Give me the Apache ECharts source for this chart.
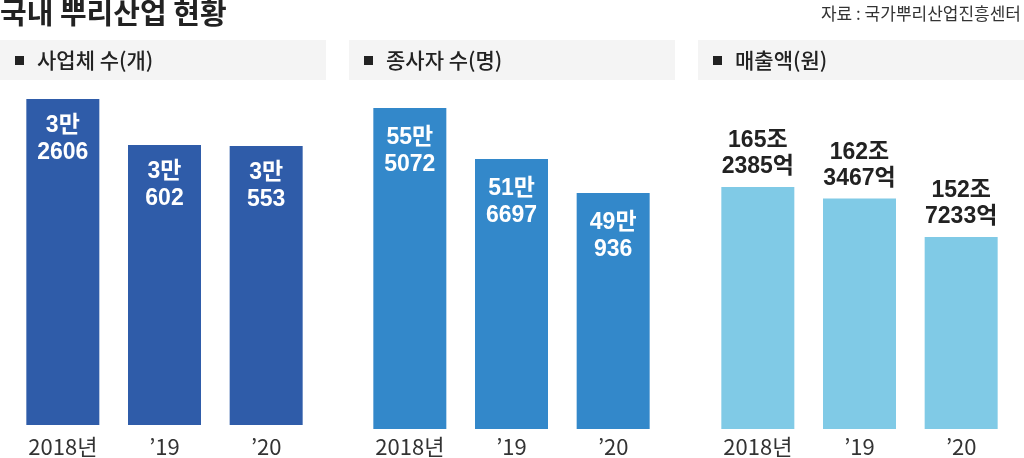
<!DOCTYPE html>
<html>
<head>
<meta charset="utf-8">
<script src="https://cdn.jsdelivr.net/npm/echarts@6/dist/echarts.min.js"></script>
<style>
  html, body { margin: 0; padding: 0; background: #fff; }
  #main { width: 1024px; height: 458px; }
</style>
</head>
<body>
<div id="main"></div>
<script>
// 데이터
var years = ['2018년', '\u201919', '\u201920'];
var firms = [32606, 30602, 30553];          // 사업체 수(개)
var workers = [555072, 516697, 490936];     // 종사자 수(명)
var sales = [1652385, 1623467, 1527233];    // 매출액(억원)
var panelNames = ['사업체 수(개)', '종사자 수(명)', '매출액(원)'];

var numFont = '"Liberation Sans", "Noto Sans CJK KR", sans-serif';
var krFont = '"Noto Sans CJK KR", sans-serif';

var chart = echarts.init(document.getElementById('main'));

function manLabel(p) {
    var v = p.value;
    return Math.floor(v / 10000) + '만\n' + (v % 10000);
}
function joLabel(p) {
    var v = p.value;
    return Math.floor(v / 10000) + '조\n' + (v % 10000) + '억';
}

var grids = [
    { left: 12, width: 305, top: 99, bottom: 458 - 425 },
    { left: 359, width: 305, top: 108, bottom: 458 - 429 },
    { left: 707, width: 305, top: 187, bottom: 458 - 429 }
];
var mins = [18400, 313000, 1047000];
var colors = ['#2f5ca9', '#3388ca', '#80cae6'];
var margins = [11, 7, 7];

var xAxes = [], yAxes = [], series = [];
[firms, workers, sales].forEach(function (data, i) {
    xAxes.push({
        type: 'category', gridIndex: i, data: years,
        axisLine: { show: false }, axisTick: { show: false },
        axisLabel: {
            color: '#333', fontSize: 22, margin: margins[i],
            fontFamily: '"Liberation Sans Narrow", "Noto Sans CJK KR", sans-serif'
        }
    });
    yAxes.push({
        type: 'value', gridIndex: i, min: mins[i], max: 'dataMax',
        show: false, splitLine: { show: false }
    });
    series.push({
        type: 'bar', xAxisIndex: i, yAxisIndex: i, data: data,
        barWidth: 73,
        itemStyle: { color: colors[i] },
        label: i < 2 ? {
            show: true, position: 'insideTop', distance: i === 0 ? 13 : 16,
            color: '#fff', fontWeight: 'bold', fontSize: 23, lineHeight: 27,
            fontFamily: numFont, formatter: manLabel
        } : {
            show: true, position: 'top', distance: 7,
            color: '#222', fontWeight: 'bold', fontSize: 23, lineHeight: 26,
            fontFamily: numFont, formatter: joLabel
        }
    });
});

var graphics = [
    { type: 'text', left: 0, top: -2, style: { text: '국내 뿌리산업 현황', font: 'bold 29px ' + krFont, fill: '#222' } },
    { type: 'text', right: 3, top: 5, style: { text: '자료 : 국가뿌리산업진흥센터', font: '17px ' + krFont, fill: '#333' } }
];
[0, 349, 698].forEach(function (x, i) {
    graphics.push({ type: 'rect', shape: { x: x, y: 40, width: 326, height: 40 }, style: { fill: '#f4f4f4' } });
    graphics.push({ type: 'rect', shape: { x: x + 15, y: 56, width: 9, height: 9 }, style: { fill: '#222' } });
    graphics.push({
        type: 'text', x: x + 37, y: 60,
        style: { text: panelNames[i], font: '500 21px ' + krFont, fill: '#222', verticalAlign: 'middle' }
    });
});

chart.setOption({
    animation: false,
    grid: grids,
    xAxis: xAxes,
    yAxis: yAxes,
    series: series,
    graphic: graphics
});
</script>
</body>
</html>
